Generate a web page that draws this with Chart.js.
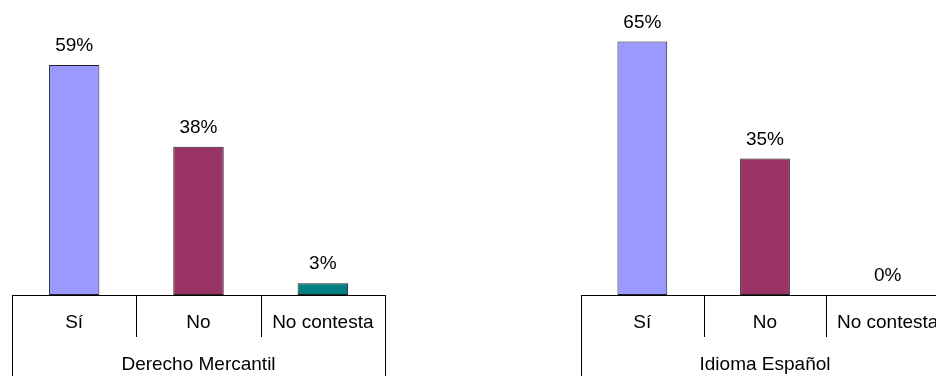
<!DOCTYPE html>
<html>
<head>
<meta charset="utf-8">
<script src="https://cdn.jsdelivr.net/npm/chart.js@4/dist/chart.umd.min.js"></script>
<style>
  html, body { margin: 0; padding: 0; background: #fff; overflow: hidden; width: 936px; height: 376px; }
  canvas { position: absolute; top: 0; }
  #c1 { left: 0; }
  #c2 { left: 560px; }
</style>
</head>
<body>
<canvas id="c1" width="400" height="376"></canvas>
<canvas id="c2" width="400" height="376"></canvas>
<script>
// Answer categories shared by both subjects
const categories = ['Sí', 'No', 'No contesta'];
// Percentages per subject
const derechoMercantil = [59, 38, 3];
const idiomaEspanol = [65, 35, 0];
// Group titles
const groupTitles = ['Derecho Mercantil', 'Idioma Español'];
// One colour per answer
const barColors = ['#9999FF', '#993366', '#008080'];

const FONT = "'Liberation Sans', Arial, sans-serif";

// Value labels above each bar
const valueLabels = {
  id: 'valueLabels',
  afterDatasetsDraw(chart) {
    const ctx = chart.ctx;
    const meta = chart.getDatasetMeta(0);
    const data = chart.data.datasets[0].data;
    ctx.save();
    ctx.font = '19px ' + FONT;
    ctx.fillStyle = '#000';
    ctx.textAlign = 'center';
    ctx.textBaseline = 'alphabetic';
    meta.data.forEach((bar, i) => {
      ctx.fillText(data[i] + '%', bar.x, bar.y - 14);
    });
    ctx.restore();
  }
};

// Table-style category boxes under the axis line
const categoryTable = {
  id: 'categoryTable',
  afterDraw(chart) {
    const sx = chart.scales.x;
    const n = chart.data.labels.length;
    const w = (sx.right - sx.left) / n;
    const ctx = chart.ctx;
    ctx.save();
    ctx.strokeStyle = '#000';
    ctx.lineWidth = 1;
    ctx.beginPath();
    for (let i = 0; i <= n; i++) {
      const x = Math.round(sx.left + i * w) + 0.5;
      const outer = (i === 0 || i === n);
      ctx.moveTo(x, sx.top);
      ctx.lineTo(x, outer ? chart.height : sx.top + 42);
    }
    ctx.stroke();
    ctx.restore();
  }
};

function makeChart(id, values, title, padLeft, padRight) {
  return new Chart(document.getElementById(id), {
    type: 'bar',
    data: {
      labels: categories,
      datasets: [{
        data: values,
        backgroundColor: barColors,
        borderColor: '#222',
        borderWidth: (c) => (c.raw === 0 ? 0 : 1),
        borderSkipped: false,
        barPercentage: 0.406,
        categoryPercentage: 1.0
      }]
    },
    options: {
      responsive: false,
      animation: false,
      events: [],
      layout: { padding: { left: padLeft, right: padRight, top: 22, bottom: 0 } },
      plugins: { legend: { display: false }, tooltip: { enabled: false } },
      scales: {
        x: {
          grid: { display: false, drawTicks: false },
          border: { display: true, color: '#000', width: 1 },
          ticks: { color: '#000', font: { family: FONT, size: 19 }, padding: 16, maxRotation: 0, autoSkip: false },
          title: { display: true, text: title, color: '#000', font: { family: FONT, size: 19 }, padding: { top: 0, bottom: 0 } },
          afterFit(scale) { scale.height = 81; }
        },
        y: { display: false, min: 0, max: 70 }
      }
    },
    plugins: [valueLabels, categoryTable]
  });
}

makeChart('c1', derechoMercantil, groupTitles[0], 12, 15);
makeChart('c2', idiomaEspanol, groupTitles[1], 21, 11);
</script>
</body>
</html>
